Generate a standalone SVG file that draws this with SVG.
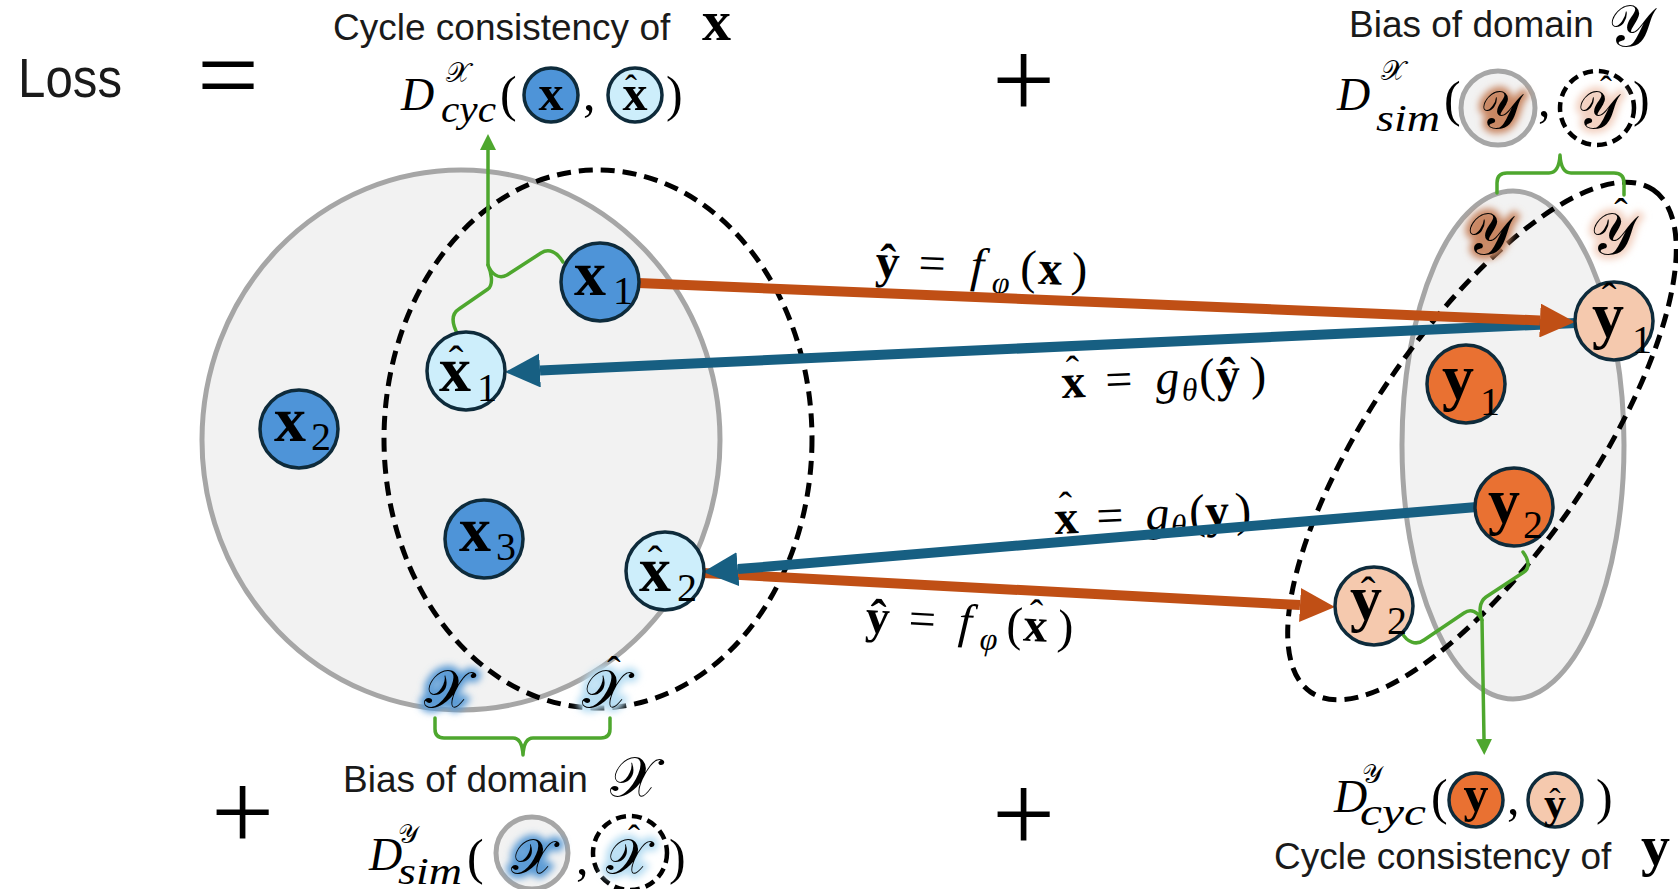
<svg xmlns="http://www.w3.org/2000/svg" width="1678" height="889" viewBox="0 0 1678 889">
<defs>
<style>
.sans{font-family:"Liberation Sans",Arial,sans-serif;fill:#1a1a1a}
.m{font-family:"Liberation Serif","Times New Roman",serif;fill:#000}
.b{font-weight:bold}
.i{font-style:italic}
.cal{font-family:"DejaVu Serif","Liberation Serif",serif;fill:#000}
.dom{fill:#f2f2f2;stroke:#a6a6a6;stroke-width:5}
.dash{fill:none;stroke:#000;stroke-width:5;stroke-dasharray:14 8}
.dashw{fill:#fff;stroke:#000;stroke-width:4.5;stroke-dasharray:10 6}
.nx{fill:#4e94d8;stroke:#0e2b3b;stroke-width:3.5}
.nxh{fill:#cdeefb;stroke:#0e2b3b;stroke-width:3.5}
.ny{fill:#e97132;stroke:#0e2b3b;stroke-width:3.5}
.nyh{fill:#f5c9ae;stroke:#0e2b3b;stroke-width:3.5}
.nl{font-size:64px}
.ns{font-size:40px}
.hat{font-size:44px}
.or{fill:none;stroke:#c04f15;stroke-width:10}
.bl{fill:none;stroke:#175f82;stroke-width:10}
.gr{fill:none;stroke:#4ea72e;stroke-width:3.5;stroke-linejoin:round;stroke-linecap:round}
.gB{fill:#5b9bd5;stroke:#5b9bd5;stroke-width:9;filter:url(#blur)}
.gBl{fill:#b8def3;stroke:#b8def3;stroke-width:9;filter:url(#blur)}
.gO{fill:#c98763;stroke:#c98763;stroke-width:9;filter:url(#blur)}
.gOl{fill:#f3d2c2;stroke:#f3d2c2;stroke-width:9;filter:url(#blur)}
</style>
<marker id="ao" markerUnits="userSpaceOnUse" viewBox="0 0 35 34" refX="0" refY="17" markerWidth="35" markerHeight="34" orient="auto"><path d="M0,0L35,17L0,34z" fill="#c04f15"/></marker>
<marker id="ab" markerUnits="userSpaceOnUse" viewBox="0 0 35 34" refX="0" refY="17" markerWidth="35" markerHeight="34" orient="auto"><path d="M0,0L35,17L0,34z" fill="#175f82"/></marker>
<marker id="ag" markerUnits="userSpaceOnUse" viewBox="0 0 16 16" refX="0" refY="8" markerWidth="16" markerHeight="16" orient="auto"><path d="M0,0L16,8L0,16z" fill="#4ea72e"/></marker>
<filter id="blur" x="-50%" y="-50%" width="200%" height="200%"><feGaussianBlur stdDeviation="3.5"/></filter>
</defs>
<rect width="1678" height="889" fill="#fff"/>

<!-- Loss equation header -->
<g id="loss">
<text class="sans" x="18" y="97" font-size="56" textLength="104" lengthAdjust="spacingAndGlyphs">Loss</text>
<text class="m" x="197" y="112" font-size="110" textLength="62" lengthAdjust="spacingAndGlyphs">=</text>
<text class="m" x="992" y="118" font-size="112">+</text>
<text class="m" x="211" y="850" font-size="112">+</text>
<text class="m" x="992" y="852" font-size="112">+</text>
</g>

<!-- domains -->
<g id="domainX">
<ellipse class="dom" cx="461" cy="440" rx="259" ry="270"/>
<ellipse class="dash" cx="598" cy="439" rx="214" ry="269"/>
</g>
<g id="domainY">
<ellipse class="dom" cx="1513" cy="445" rx="111" ry="254"/>
<ellipse class="dash" cx="1482" cy="441" rx="304" ry="111" transform="rotate(-55.7 1482 441)"/>
</g>

<!-- domain labels -->
<g id="labelsDomain">
<text class="cal gB" x="447" y="708" font-size="54" text-anchor="middle">𝒳</text>
<text class="cal" x="447" y="708" font-size="54" text-anchor="middle">𝒳</text>
<text class="cal gBl" x="605" y="708" font-size="54" text-anchor="middle">𝒳</text>
<text class="cal" x="605" y="708" font-size="54" text-anchor="middle">𝒳</text>
<text class="m" x="614" y="684" font-size="40" text-anchor="middle">ˆ</text>
<text class="cal gO" x="1488" y="254" font-size="58" text-anchor="middle">𝒴</text>
<text class="cal" x="1488" y="254" font-size="58" text-anchor="middle">𝒴</text>
<text class="cal gOl" x="1612" y="254" font-size="58" text-anchor="middle">𝒴</text>
<text class="cal" x="1612" y="254" font-size="58" text-anchor="middle">𝒴</text>
<text class="m" x="1621" y="226" font-size="40" text-anchor="middle">ˆ</text>
</g>

<!-- arrow labels -->
<g id="lab1" transform="rotate(2.4 875 277)">
<text class="m" font-size="48" y="277"><tspan class="b" x="875">ŷ</tspan><tspan x="918">=</tspan><tspan class="i" x="970">f</tspan><tspan class="i" x="992" y="288" font-size="32">φ</tspan><tspan x="1020" y="277">(</tspan><tspan class="b" x="1038">x</tspan><tspan x="1071">)</tspan></text>
</g>
<g id="lab2" transform="rotate(-2.5 1062 398)">
<text class="m" font-size="48" y="398"><tspan class="b" x="1062">x</tspan><tspan x="1106">=</tspan><tspan class="i" x="1156">g</tspan><tspan class="i" x="1182" y="406" font-size="32">θ</tspan><tspan x="1200" y="398">(</tspan><tspan class="b" x="1217">ŷ</tspan><tspan x="1251">)</tspan></text>
<text class="m" x="1074" y="384" font-size="40" text-anchor="middle">ˆ</text>
</g>
<g id="lab3" transform="rotate(-2.5 1055 534)">
<text class="m" font-size="48" y="534"><tspan class="b" x="1055">x</tspan><tspan x="1097">=</tspan><tspan class="i" x="1146">g</tspan><tspan class="i" x="1171" y="542" font-size="32">θ</tspan><tspan x="1190" y="534">(</tspan><tspan class="b" x="1206">y</tspan><tspan x="1236">)</tspan></text>
<text class="m" x="1067" y="520" font-size="40" text-anchor="middle">ˆ</text>
</g>
<g id="lab4" transform="rotate(3.1 865 632)">
<text class="m" font-size="48" y="632"><tspan class="b" x="865">ŷ</tspan><tspan x="908">=</tspan><tspan class="i" x="958">f</tspan><tspan class="i" x="980" y="643" font-size="32">φ</tspan><tspan x="1006" y="632">(</tspan><tspan class="b" x="1023">x</tspan><tspan x="1057">)</tspan></text>
<text class="m" x="1035" y="618" font-size="40" text-anchor="middle">ˆ</text>
</g>

<!-- connectors -->
<g id="connectors">
<path class="bl" d="M1576,323 L540,370.4" marker-end="url(#ab)"/>
<path class="or" d="M638,283 L1540,320.5" marker-end="url(#ao)"/>
<path class="or" d="M703,573 L1300,605.1" marker-end="url(#ao)"/>
<path class="bl" d="M1477,507 L737.9,569.1" marker-end="url(#ab)"/>
<path class="gr" d="M458,335 C452,324 451,314 459,309 L488,289 C494,284 491,272 488,265 C491,273 498,280 507,275 L541,253 C549,248 557,252 563,262"/>
<path class="gr" d="M488,265 V150" marker-end="url(#ag)"/>
<path class="gr" d="M1497,193 L1497,183 Q1497,173 1507,173 L1549,173 Q1559,173 1560,155 Q1561,173 1571,173 L1614,173 Q1624,173 1624,183 L1624,195"/>
<path class="gr" d="M435,718 L435,729 Q435,738 444,738 L513,738 Q522,738 523,755 Q524,738 533,738 L601,738 Q610,738 610,729 L610,718"/>
<path class="gr" d="M1523,552 C1529,560 1530,568 1524,572 L1486,597 C1479,602 1479,612 1482,620 C1478,612 1471,608 1464,613 L1424,640 C1416,646 1407,642 1402,633"/>
<path class="gr" d="M1482,620 L1484,739" marker-end="url(#ag)"/>
</g>

<!-- nodes -->
<g id="x1"><circle class="nx" cx="600" cy="282" r="39"/><text class="m b nl" x="574" y="295">x</text><text class="m ns" x="613" y="304">1</text></g>
<g id="xhat1"><circle class="nxh" cx="466" cy="371" r="39"/><text class="m b nl" x="439" y="391">x</text><text class="m hat" x="456" y="376" text-anchor="middle">ˆ</text><text class="m ns" x="477" y="401">1</text></g>
<g id="x2"><circle class="nx" cx="299" cy="429" r="39"/><text class="m b nl" x="274" y="441">x</text><text class="m ns" x="311" y="450">2</text></g>
<g id="x3"><circle class="nx" cx="484" cy="539" r="39"/><text class="m b nl" x="459" y="551">x</text><text class="m ns" x="496" y="560">3</text></g>
<g id="xhat2"><circle class="nxh" cx="665" cy="571" r="39"/><text class="m b nl" x="639" y="591">x</text><text class="m hat" x="655" y="576" text-anchor="middle">ˆ</text><text class="m ns" x="677" y="601">2</text></g>
<g id="yhat1"><circle class="nyh" cx="1614" cy="321" r="39"/><text class="m b nl" x="1592" y="336">y</text><text class="m hat" x="1609" y="313" text-anchor="middle">ˆ</text><text class="m ns" x="1632" y="353">1</text></g>
<g id="y1"><circle class="ny" cx="1466" cy="384" r="39"/><text class="m b nl" x="1442" y="398">y</text><text class="m ns" x="1480" y="415">1</text></g>
<g id="y2"><circle class="ny" cx="1514" cy="507" r="39"/><text class="m b nl" x="1488" y="522">y</text><text class="m ns" x="1523" y="538">2</text></g>
<g id="yhat2"><circle class="nyh" cx="1374" cy="606" r="39"/><text class="m b nl" x="1350" y="619">y</text><text class="m hat" x="1368" y="607" text-anchor="middle">ˆ</text><text class="m ns" x="1387" y="634">2</text></g>

<!-- term: cycle consistency of x -->
<g id="termCycX">
<text class="sans" x="333" y="40" font-size="37">Cycle consistency of</text>
<text class="m b" x="702" y="40" font-size="58">x</text>
<text class="m i" x="401" y="110" font-size="46">D</text>
<text class="cal" x="446" y="82" font-size="28">𝒳</text>
<text class="m i" x="441" y="122" font-size="38" textLength="55" lengthAdjust="spacingAndGlyphs">cyc</text>
<text class="m" x="500" y="111" font-size="50">(</text>
<circle class="nx" cx="551" cy="95" r="27"/>
<text class="m b" x="551" y="110" font-size="50" text-anchor="middle">x</text>
<text class="m" x="583" y="110" font-size="50">,</text>
<circle class="nxh" cx="635" cy="95" r="27"/>
<text class="m b" x="635" y="110" font-size="50" text-anchor="middle">x</text>
<text class="m" x="631" y="100" font-size="36" text-anchor="middle">ˆ</text>
<text class="m" x="666" y="111" font-size="50">)</text>
</g>

<!-- term: bias of domain Y -->
<g id="termSimY">
<text class="sans" x="1349" y="37" font-size="37">Bias of domain</text>
<text class="cal" x="1608" y="46" font-size="58">𝒴</text>
<text class="m i" x="1337" y="110" font-size="46">D</text>
<text class="cal" x="1381" y="80" font-size="28">𝒳</text>
<text class="m i" x="1376" y="131" font-size="38" textLength="64" lengthAdjust="spacingAndGlyphs">sim</text>
<text class="m" x="1444" y="116" font-size="50">(</text>
<circle class="dom" cx="1498" cy="108" r="37"/>
<text class="cal gO" x="1500" y="128" font-size="52" text-anchor="middle">𝒴</text>
<text class="cal" x="1500" y="128" font-size="52" text-anchor="middle">𝒴</text>
<text class="m" x="1538" y="116" font-size="50">,</text>
<circle class="dashw" cx="1597" cy="108" r="37"/>
<text class="cal gOl" x="1597" y="128" font-size="52" text-anchor="middle">𝒴</text>
<text class="cal" x="1597" y="128" font-size="52" text-anchor="middle">𝒴</text>
<text class="m" x="1606" y="101" font-size="36" text-anchor="middle">ˆ</text>
<text class="m" x="1633" y="116" font-size="50">)</text>
</g>

<!-- term: bias of domain X -->
<g id="termSimX">
<text class="sans" x="343" y="792" font-size="37">Bias of domain</text>
<text class="cal" x="610" y="796" font-size="56">𝒳</text>
<text class="m i" x="369" y="870" font-size="46">D</text>
<text class="cal" x="398" y="843" font-size="26">𝒴</text>
<text class="m i" x="398" y="884" font-size="38" textLength="64" lengthAdjust="spacingAndGlyphs">sim</text>
<text class="m" x="467" y="874" font-size="50">(</text>
<circle class="dom" cx="532" cy="853" r="36"/>
<text class="cal gB" x="532" y="874" font-size="50" text-anchor="middle">𝒳</text>
<text class="cal" x="532" y="874" font-size="50" text-anchor="middle">𝒳</text>
<text class="m" x="576" y="874" font-size="50">,</text>
<circle class="dashw" cx="630" cy="853" r="37"/>
<text class="cal gBl" x="627" y="874" font-size="50" text-anchor="middle">𝒳</text>
<text class="cal" x="627" y="874" font-size="50" text-anchor="middle">𝒳</text>
<text class="m" x="634" y="850" font-size="36" text-anchor="middle">ˆ</text>
<text class="m" x="669" y="874" font-size="50">)</text>
</g>

<!-- term: cycle consistency of y -->
<g id="termCycY">
<text class="m i" x="1334" y="812" font-size="46">D</text>
<text class="cal" x="1362" y="783" font-size="26">𝒴</text>
<text class="m i" x="1360" y="825" font-size="38" textLength="66" lengthAdjust="spacingAndGlyphs">cyc</text>
<text class="m" x="1431" y="814" font-size="50">(</text>
<circle class="ny" cx="1476" cy="800" r="27"/>
<text class="m b" x="1476" y="811" font-size="50" text-anchor="middle">y</text>
<text class="m" x="1507" y="814" font-size="50">,</text>
<circle class="nyh" cx="1555" cy="800" r="27"/>
<text class="m b" x="1555" y="818" font-size="44" text-anchor="middle">y</text>
<text class="m" x="1555" y="812" font-size="34" text-anchor="middle">ˆ</text>
<text class="m" x="1596" y="814" font-size="50">)</text>
<text class="sans" x="1274" y="869" font-size="37">Cycle consistency of</text>
<text class="m b" x="1641" y="865" font-size="58">y</text>
</g>
</svg>
